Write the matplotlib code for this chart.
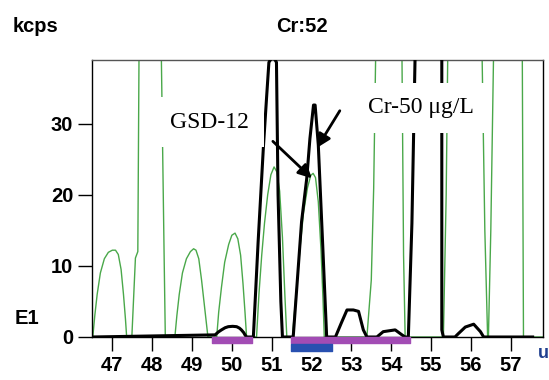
import matplotlib
matplotlib.use("Agg")
import matplotlib.pyplot as plt

# 色谱图数据 (时间 s, 强度 kcps)；高峰超出量程, 顶点为估计值
green_t = [46.49, 46.51, 46.56, 46.62, 46.7, 46.8, 46.9, 47.0, 47.08, 47.15, 47.22, 47.28, 47.33, 47.36,
           47.49, 47.58, 47.64, 47.67, 47.95, 48.23, 48.30, 48.33,
           48.57, 48.62, 48.68, 48.76, 48.86, 48.96, 49.04, 49.1, 49.17, 49.24, 49.31, 49.36, 49.40,
           49.62, 49.67, 49.74, 49.82, 49.92, 50.0, 50.08, 50.15, 50.22, 50.28, 50.33, 50.37,
           50.62, 50.68, 50.75, 50.82, 50.9, 50.98, 51.06, 51.13, 51.2, 51.27, 51.33, 51.38,
           51.52, 51.58, 51.65, 51.72, 51.8, 51.9, 51.98, 52.04, 52.1, 52.17, 52.24, 52.29, 52.32,
           53.39, 53.5, 53.56, 53.61, 53.94, 54.27, 54.31, 54.35,
           55.31, 55.38, 55.42, 55.85, 56.28, 56.35, 56.42,
           56.44, 56.5, 56.57, 56.93, 57.29, 57.32, 57.81]
green_y = [0, 0, 3, 6, 9, 11, 11.9, 12.2, 12.2, 11.6, 9.5, 6, 2.5, 0,
           0, 11.1, 12.0, 39.6, 60, 39.6, 11.5, 0,
           0, 3, 6, 9, 11, 12.0, 12.4, 12.2, 11.0, 8, 4.5, 2, 0,
           0, 3.5, 7, 10.5, 13, 14.3, 14.6, 13.8, 11.5, 7.5, 3.5, 0,
           0, 6, 11.5, 16, 20, 22.8, 23.9, 23.2, 20.5, 14, 6, 0,
           0, 4, 8.5, 13, 17.5, 21, 22.7, 23, 22.4, 19, 12, 5, 0,
           0, 8, 20.9, 39.6, 60, 39.6, 11.5, 0,
           0, 20, 40, 60, 40, 15, 0,
           0, 15, 40, 60, 40, 0, 0]

black_t = [46.49, 49.58, 49.66, 49.74, 49.83, 49.91, 50.02, 50.12, 50.19, 50.24, 50.3, 50.33, 50.37,
           50.54, 50.66, 50.79, 50.87, 50.93, 51.03, 51.12, 51.16, 51.23, 51.27,
           51.54, 51.63, 51.75, 51.88, 51.96, 52.05, 52.09, 52.17, 52.28, 52.38,
           52.6, 52.75, 52.89, 53.05, 53.18, 53.3, 53.39,
           53.64, 53.8, 54.1, 54.27, 54.35,
           54.43, 54.52, 54.6, 54.95, 55.27, 55.27, 55.31,
           55.6, 55.69, 55.86, 56.07, 56.24, 56.32, 57.55]
black_y = [0, 0.3, 0.7, 1.0, 1.3, 1.45, 1.5, 1.45, 1.25, 1.0, 0.6, 0.3, 0,
           0, 13.4, 26.5, 33.5, 38.6, 39.5, 38.6, 20, 5, 0,
           0, 6.9, 16.2, 22.3, 27.9, 32.6, 32.6, 27, 13, 0,
           0, 2.0, 3.8, 3.8, 3.6, 1.0, 0,
           0, 0.75, 1.0, 0.3, 0,
           0, 16, 39.6, 60, 39.6, 1, 0,
           0, 0.5, 1.4, 1.8, 0.75, 0, 0]

# 积分窗口
purple_win = [(49.49, 50.5), (51.48, 54.48)]
blue_win = [(51.48, 52.51)]

x_ticks = list(range(47, 58))
y_ticks = [0, 10, 20, 30]

sans = ['Liberation Sans', 'DejaVu Sans']
serif = ['Liberation Serif', 'DejaVu Serif']

fig = plt.figure(figsize=(5.49, 3.80), dpi=100)
ax = fig.add_axes([92/549, 1-337/380, (543-92)/549, (337-59.5)/380])

ax.plot(green_t, green_y, color='#4aa84a', lw=1.0, zorder=2)
ax.plot(black_t, black_y, color='black', lw=2.2, zorder=3)

ax.broken_barh([(a, b-a) for a, b in purple_win], (-0.85, 0.85),
               color='#a24cb4', clip_on=False, zorder=5)
ax.broken_barh([(a, b-a) for a, b in blue_win], (-1.95, 0.95),
               color='#2850b0', clip_on=False, zorder=5)

ax.set_xlim(46.49, 57.81)
ax.set_ylim(0, 39)
ax.set_xticks(x_ticks)
ax.set_yticks(y_ticks)
ax.tick_params(axis='both', direction='out', length=10, width=1,
               labelsize=14.5, pad=3.5)
ax.tick_params(axis='x', pad=4)
for lab in ax.get_xticklabels() + ax.get_yticklabels():
    lab.set_fontweight('bold')
    lab.set_family(sans)
for s in ax.spines.values():
    s.set_linewidth(1.0)
ax.spines['top'].set_color('#555555')

# 标注
box = dict(boxstyle='square,pad=0.6', fc='white', ec='none')
ax.text(49.45, 30.2, 'GSD-12', fontsize=17, family=serif,
        ha='center', va='center', bbox=box, zorder=6)
ax.text(54.75, 32.2, 'Cr-50 μg/L', fontsize=17, family=serif,
        ha='center', va='center', bbox=box, zorder=6)
arrow = dict(arrowstyle='-|>', lw=2, color='black', mutation_scale=20,
             shrinkA=0, shrinkB=0)
ax.annotate('', xy=(52.01, 22.3), xytext=(51.03, 27.5), arrowprops=arrow, zorder=7)
ax.annotate('', xy=(52.14, 26.6), xytext=(52.71, 31.8), arrowprops=arrow, zorder=7)

fig.text(13/549, 1-27/380, 'kcps', fontsize=14.5, fontweight='bold',
         family=sans, ha='left', va='center')
fig.text(302/549, 1-27/380, 'Cr:52', fontsize=14.5, fontweight='bold',
         family=sans, ha='center', va='center')
fig.text(15/549, 1-318/380, 'E1', fontsize=14.5, fontweight='bold',
         family=sans, ha='left', va='center')
fig.text(538/549, 1-353/380, 'u', fontsize=13, fontweight='bold',
         color='#1f3f8f', family=sans, ha='left', va='center')

fig.savefig('out.png', dpi=100)
